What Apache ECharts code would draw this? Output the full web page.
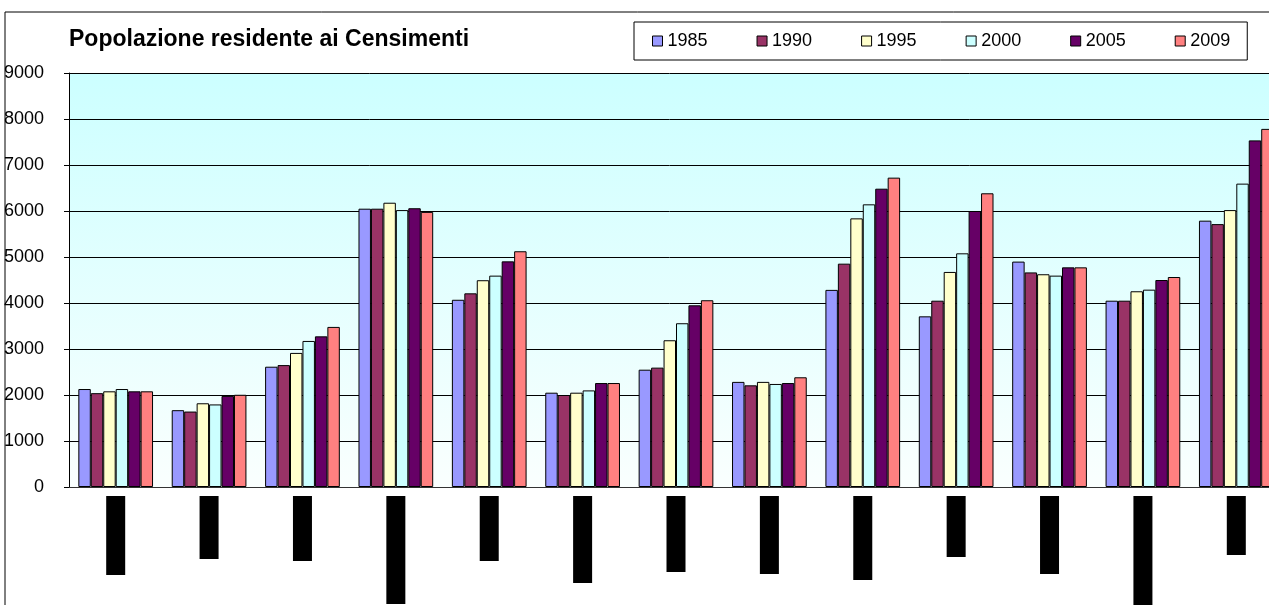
<!DOCTYPE html>
<html>
<head>
<meta charset="utf-8">
<script src="https://cdn.jsdelivr.net/npm/echarts@6/dist/echarts.min.js"></script>
<style>
  html, body { margin: 0; padding: 0; background: #fff; }
  #chart { width: 1269px; height: 605px; }
</style>
</head>
<body>
<div id="chart"></div>
<script>
// category labels are blacked out in the source, placeholders kept as text
const categories = ['Zona 1', 'Zona 2', 'Zona 3', 'Zona 4', 'Zona 5', 'Zona 6', 'Zona 7',
  'Zona 8', 'Zona 9', 'Zona 10', 'Zona 11', 'Zona 12', 'Zona 13'];
const years = ['1985', '1990', '1995', '2000', '2005', '2009'];

const pop1985 = [2130, 1670, 2615, 6050, 4070, 2050, 2550, 2285, 4285, 3710, 4900, 4050, 5790];
const pop1990 = [2040, 1640, 2650, 6050, 4210, 2000, 2595, 2210, 4855, 4050, 4665, 4050, 5715];
const pop1995 = [2080, 1820, 2915, 6180, 4495, 2050, 3190, 2285, 5840, 4675, 4625, 4255, 6020];
const pop2000 = [2130, 1795, 3175, 6020, 4595, 2100, 3560, 2240, 6145, 5080, 4595, 4290, 6595];
const pop2005 = [2080, 1980, 3275, 6060, 4905, 2260, 3950, 2260, 6485, 6000, 4775, 4500, 7535];
const pop2009 = [2080, 2005, 3480, 5980, 5125, 2260, 4060, 2385, 6725, 6385, 4775, 4565, 7785];

const yTicks = { min: 0, max: 9000, interval: 1000 };

// styling only
const colors = ['#9999ff', '#993366', '#ffffcc', '#ccffff', '#660066', '#ff8080'];
const labelBoxLength = [79, 63, 65, 108, 65, 87, 76, 78, 84, 61, 78, 109, 59];
const font = "'Liberation Sans', Arial, sans-serif";

const seriesValues = [pop1985, pop1990, pop1995, pop2000, pop2005, pop2009];

const rich = {};
labelBoxLength.forEach(function (len, i) {
  rich['b' + i] = {
    width: len,
    height: 19,
    backgroundColor: '#000',
    color: '#000',
    fontSize: 10
  };
});

const chart = echarts.init(document.getElementById('chart'), null, { renderer: 'canvas' });

chart.setOption({
  animation: false,
  textStyle: { fontFamily: font },
  title: {
    text: 'Popolazione residente ai Censimenti',
    left: 69,
    top: 28,
    padding: 0,
    textStyle: { fontSize: 23, fontWeight: 'bold', color: '#000', fontFamily: font }
  },
  legend: {
    left: 634,
    top: 22,
    padding: [10, 17, 10, 18],
    borderColor: '#000',
    borderWidth: 1,
    itemWidth: 10,
    itemHeight: 10,
    itemGap: 49,
    icon: 'rect',
    itemStyle: { borderColor: '#000', borderWidth: 1 },
    textStyle: { fontSize: 18, lineHeight: 15, color: '#000', fontFamily: font },
    data: years
  },
  graphic: [{
    type: 'rect',
    shape: { x: 5, y: 12, width: 1400, height: 700 },
    style: { fill: 'none', stroke: '#000', lineWidth: 1 },
    silent: true
  }],
  grid: {
    left: 69,
    top: 73,
    width: 1214,
    height: 414,
    outerBoundsMode: 'none',
    containLabel: false,
    show: true,
    borderWidth: 0,
    backgroundColor: new echarts.graphic.LinearGradient(0, 0, 0, 1, [
      { offset: 0, color: '#ccffff' },
      { offset: 1, color: '#fafffe' }
    ])
  },
  xAxis: {
    type: 'category',
    data: categories,
    axisLine: { lineStyle: { color: '#333', width: 1 } },
    axisTick: { length: 5, lineStyle: { color: '#333' } },
    axisLabel: {
      rotate: 90,
      margin: 9,
      interval: 0,
      formatter: function (value, index) {
        return '{b' + index + '|' + value + '}';
      },
      rich: rich
    }
  },
  yAxis: {
    type: 'value',
    min: yTicks.min,
    max: yTicks.max,
    interval: yTicks.interval,
    axisLine: { show: true, lineStyle: { color: '#000', width: 1 } },
    axisTick: { show: true, length: 5, lineStyle: { color: '#000' } },
    axisLabel: {
      margin: 25,
      fontSize: 18,
      color: '#000',
      fontFamily: font,
      formatter: function (v) { return String(v); }
    },
    splitLine: { lineStyle: { color: '#000', width: 1 } }
  },
  series: years.map(function (year, i) {
    return {
      name: year,
      type: 'bar',
      data: seriesValues[i],
      barGap: 0,
      barCategoryGap: '20%',
      itemStyle: { color: colors[i], borderColor: '#000', borderWidth: 1 }
    };
  })
});
</script>
</body>
</html>
